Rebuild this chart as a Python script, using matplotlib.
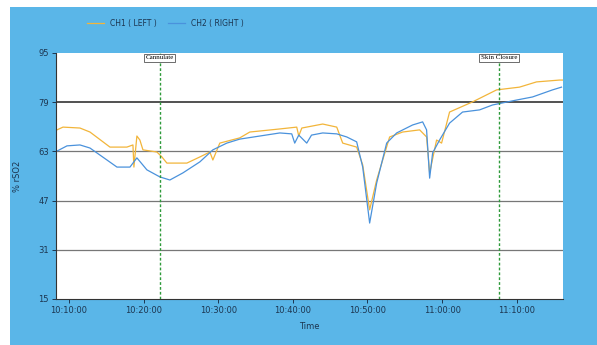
#!/usr/bin/env python3

"""
Cerebral oximetry trend (CH1 left / CH2 right) during a procedure.
"""

import matplotlib.pyplot as plt
import matplotlib.dates as mdates
from matplotlib.patches import Rectangle
import pandas as pd

START = pd.Timestamp("2000-01-01 10:00:00")

# minutes after 10:00 and % rSO2
ch1_min = [8.39, 9.2, 11.47, 12.81, 15.49, 17.76, 18.57, 18.70, 19.10, 19.50,
           19.91, 21.78, 22.45, 23.12, 25.80, 27.54, 28.88, 29.28, 30.21, 32.89,
           34.23, 38.25, 40.52, 40.79, 41.2, 44.0, 45.88, 46.68, 48.55, 49.36,
           50.29, 51.23, 52.97, 54.71, 56.99, 57.92, 58.33, 59.26, 59.93, 61.0,
           64.08, 67.30, 70.37, 72.65, 75.73, 76.2]
ch1_val = [70.0, 70.9, 70.6, 69.3, 64.4, 64.4, 65.1, 57.9, 68.0, 66.7,
           63.5, 62.8, 61.2, 59.2, 59.2, 61.2, 62.8, 60.2, 65.7, 67.4,
           69.3, 70.3, 70.9, 68.0, 70.6, 71.9, 70.9, 65.7, 64.4, 58.6,
           44.0, 53.7, 67.7, 69.3, 70.0, 67.7, 56.0, 66.7, 65.7, 75.8,
           79.1, 83.0, 83.9, 85.6, 86.2, 86.2]

ch2_min = [8.39, 9.73, 11.47, 12.81, 15.09, 16.43, 18.17, 19.10, 20.44, 22.18,
           23.52, 25.26, 27.54, 29.28, 31.15, 32.89, 35.57, 38.25, 39.85, 40.25,
           40.79, 41.86, 42.5, 44.0, 45.88, 47.22, 48.55, 49.36, 50.29, 51.23,
           52.57, 53.91, 56.05, 57.39, 57.92, 58.33, 58.73, 59.66, 61.0, 62.74,
           65.02, 66.76, 69.97, 72.11, 74.79, 76.0]
ch2_val = [63.1, 64.8, 65.1, 64.1, 60.2, 57.9, 57.9, 60.9, 57.0, 54.7,
           53.7, 56.0, 59.6, 63.5, 65.7, 67.0, 68.0, 69.0, 68.7, 65.7,
           68.3, 65.7, 68.3, 69.0, 68.7, 67.7, 66.1, 57.9, 39.7, 52.7,
           65.7, 69.0, 71.6, 72.6, 70.0, 54.3, 62.5, 66.7, 72.2, 75.8,
           76.5, 78.1, 79.7, 80.7, 83.0, 83.9]

events = ["Cannulate", "Skin Closure"]
event_min = [22.14, 67.63]

y_ticks = [15, 31, 47, 63, 79, 95]
threshold = 79


def to_time(minutes):
    return START + pd.to_timedelta(minutes, unit="min")


fig = plt.figure(figsize=(5.97, 3.45), dpi=100, facecolor="white")
fig.patches.append(Rectangle((10 / 597, 0), 1, 338 / 345, transform=fig.transFigure,
                             facecolor="#5ab6e8", edgecolor="none", zorder=-1))
ax = fig.add_axes([56 / 597, 46 / 345, 507 / 597, 246 / 345])
ax.set_facecolor("white")

ax.plot(to_time(ch1_min), ch1_val, color="#f2b53a", lw=0.9, label="CH1 ( LEFT )")
ax.plot(to_time(ch2_min), ch2_val, color="#4a92dc", lw=0.9, label="CH2 ( RIGHT )")

for y in [31, 47, 63]:
    ax.axhline(y, color="#777777", lw=0.9, zorder=0)
ax.axhline(threshold, color="#333333", lw=1.2, zorder=0)

for name, m in zip(events, event_min):
    t = to_time(m)
    ax.axvline(t, color="#2e9a3a", lw=1.0, ls=(0, (2, 1.5)))
    ax.text(t, 93.4, name, ha="center", va="center", fontsize=5, family="Liberation Serif",
            bbox=dict(boxstyle="square,pad=0.2", facecolor="white", edgecolor="#555555", lw=0.6))

ax.set_xlim(to_time(8.26), to_time(76.2))
ax.set_ylim(15, 95)
ax.set_yticks(y_ticks)
ax.xaxis.set_major_locator(mdates.MinuteLocator(byminute=[0, 10, 20, 30, 40, 50]))
ax.xaxis.set_major_formatter(mdates.DateFormatter("%H:%M:%S"))
ax.tick_params(labelsize=6, colors="#1c3550", length=3, width=0.7, pad=2)
for side in ["top", "right"]:
    ax.spines[side].set_visible(False)
for side in ["left", "bottom"]:
    ax.spines[side].set_color("#333333")

ax.set_xlabel("Time", fontsize=6, color="#1c3550", labelpad=5)
ax.set_ylabel("% rSO2", fontsize=6, color="#1c3550", labelpad=12)

fig.legend(loc="upper left", bbox_to_anchor=(80 / 597, 1 - 12 / 345), ncol=2, frameon=False,
           fontsize=5.5, handlelength=2.2, columnspacing=1.5, labelcolor="#1c3550")

fig.savefig("out.png", dpi=100)
